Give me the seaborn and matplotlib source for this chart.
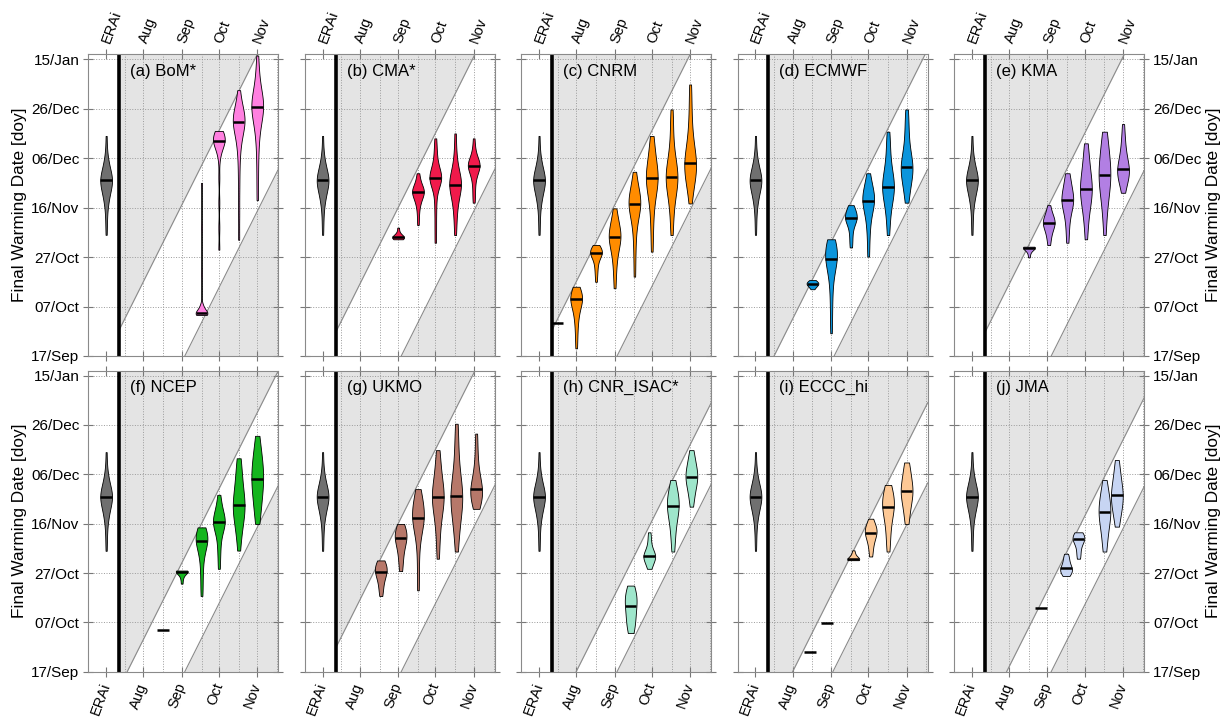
import numpy as np
import pandas as pd
import seaborn as sns
import matplotlib
matplotlib.use("Agg")
import matplotlib.pyplot as plt

# x: initialisation day counted from 1 Aug, y: final warming day counted from 17 Sep
fw_ticks = [0, 20, 40, 60, 80, 100, 120]
fw_labels = ["17/Sep", "07/Oct", "27/Oct", "16/Nov", "06/Dec", "26/Dec", "15/Jan"]
init_ticks = [-30, 0, 31, 61, 92]
init_labels = ["ERAi", "Aug", "Sep", "Oct", "Nov"]
grid_x = [-15, 0, 16, 31, 47, 61, 77, 92, 108]
erai_init = -30
split_x = -19.5

models = ["BoM*", "CMA*", "CNRM", "ECMWF", "KMA", "NCEP", "UKMO", "CNR_ISAC*", "ECCC_hi", "JMA"]
model_colors = ["#ff80e0", "#f01a4b", "#ff8c00", "#0b95dc", "#b27fe3",
                "#14b51e", "#b7786a", "#9ee6cb", "#fdc895", "#c7d5f3"]
erai_color = "#707070"
# forecast window (days after initialisation) bounding the white band
lead_lo = [13.5, 13.5, 14, 13.5, 13, 13.5, 13.5, 14, 14.5, 13]
lead_hi = [77, 76, 77, 62, 76, 60, 76, 47, 47, 49]

erai_fw = [49, 54, 58, 61, 63, 64, 65, 66, 67, 68, 69, 69, 70, 70, 71, 71, 71,
           72, 72, 73, 73, 74, 75, 76, 77, 78, 80, 83, 89]

bom_init = [47, 61, 77, 92]
bom_fw = [
    [16.6, 16.7, 16.8, 16.9, 17.0, 17.1, 17.2, 17.2, 17.3, 17.5, 18.0, 18.6, 19.3, 20.0, 20.8, 33, 52, 70],
    [43, 52, 62, 72, 80, 83, 84.5, 85.5, 86, 86.5, 87, 87, 87.5, 88, 88.5, 89, 89.5, 90, 90.5, 91],
    [47, 58, 68, 76, 82, 86, 88, 90, 92, 93, 94, 95, 95, 95.5, 96, 96.5, 97, 98, 99, 101, 104, 107.5],
    [63, 72, 80, 86, 90, 93, 95, 97, 98, 99, 100, 101, 101.5, 102, 103, 104, 105, 107, 109, 112, 116, 121.5],
]

cma_init = [31, 47, 61, 77, 92]
cma_fw = [
    [47.2, 47.4, 47.6, 47.8, 48.0, 48.0, 48.2, 48.5, 49.0, 50.0, 51.9],
    [53, 57, 60, 62, 63, 64, 65, 65.5, 66, 66.4, 66.8, 67, 67.5, 68, 69, 70, 72, 73.9],
    [45.8, 52, 58, 63, 67, 69, 70, 71, 71.5, 72, 72.2, 72.5, 73, 74, 75, 76.5, 78, 81, 84, 88],
    [48.9, 54, 58, 61, 63, 65, 66.5, 68, 68.5, 69, 69.2, 70, 71, 72, 73, 74, 76, 79, 83, 90],
    [62, 65, 68, 71, 72.5, 74, 75, 76, 76.5, 77, 77, 77.5, 78, 78.5, 79, 80, 82, 84, 88],
]

cnrm_init = [-15, 0, 16, 31, 47, 61, 77, 92]
cnrm_fw = [
    [13.2],
    [3.1, 8, 12, 15, 17, 19, 20.5, 21.5, 23, 23, 23, 23.5, 24, 25, 26, 27, 28],
    [30, 33, 35, 37, 38.5, 39.5, 40.5, 41, 41.5, 41.9, 42, 42.3, 42.6, 43, 43.5, 44.2, 44.9],
    [27.4, 33, 37, 40, 42.5, 44, 45.5, 46.5, 47.5, 48.5, 49, 49.5, 50.5, 51.5, 53, 55, 57, 59.7],
    [32.1, 40, 46, 51, 54, 56, 58, 59.5, 60.5, 61.5, 62, 62.3, 63, 64, 65.5, 67, 69, 71, 74.5],
    [42.2, 50, 56, 61, 64, 66.5, 68.5, 70, 71, 72, 72.2, 73, 74.5, 76, 78, 80, 83, 86, 89],
    [48.9, 55, 60, 63.5, 66, 68, 69.5, 71, 72, 72.2, 73, 74.5, 76, 78, 80, 83, 88, 94, 99.7],
    [61.7, 66, 69, 71.5, 72.5, 73.5, 75, 76.5, 77.2, 77.5, 78, 79, 80.5, 82, 84, 86.5, 89, 93, 98, 104, 109.8],
]

ecmwf_init = [16, 31, 47, 61, 77, 92]
ecmwf_fw = [
    [27, 27.8, 28.4, 28.8, 29.1, 29.3, 29.4, 29.6, 29.8, 30.1, 30.7],
    [9.2, 16, 22, 27, 31, 34, 36, 37.5, 38.5, 39.2, 39.8, 40.5, 41.5, 42.5, 43.5, 44.5, 45.5, 46.3, 47.2],
    [43.9, 47, 50, 52.5, 54, 55, 55.5, 55.9, 56.3, 57, 57.8, 58.8, 60, 61],
    [40.2, 47, 52, 55.5, 58, 60, 61.5, 62.5, 63, 63.5, 64.5, 65.5, 67, 68.5, 70.5, 73.9],
    [48.9, 54, 58, 61.5, 63.5, 65, 66.5, 67.5, 68, 68.5, 69.5, 71, 72.5, 74, 76, 79, 83, 87, 90.7],
    [62, 65, 67.5, 70, 72, 73.5, 74.5, 75.5, 75.9, 76.5, 77.5, 78.5, 80, 82, 85, 88, 92, 96, 99.7],
]

kma_init = [16, 32, 47, 62, 77, 92]
kma_fw = [
    [39.9, 41.5, 42.5, 43.2, 43.6, 43.8, 43.9, 44.0, 44.0, 44.1, 44.1, 44.2],
    [44.9, 47.5, 49.5, 51, 52, 53, 53.5, 54, 54.5, 55.2, 56, 57, 58.5, 61],
    [45.8, 51, 55, 58, 60, 61.5, 62.5, 63, 63.5, 64.5, 66, 67.5, 69.5, 72, 73.9],
    [47.2, 53, 57, 60, 62, 64, 65.5, 66.5, 67.1, 68, 69.5, 71, 72.5, 74.5, 77, 80, 83, 86],
    [48.9, 55, 60, 63, 65.5, 67.5, 69.5, 71, 72.5, 73.2, 74, 75.5, 77, 79, 81, 83, 86, 88.5, 90.7],
    [66, 68.5, 70.5, 72, 73, 74, 74.5, 75, 75.5, 76.5, 78, 79.5, 81, 83, 86, 89, 93.8],
]

ncep_init = [16, 31, 47, 61, 77, 92]
ncep_fw = [
    [16.8],
    [35.7, 37.5, 38.7, 39.5, 40, 40.4, 40.6, 40.8, 40.9, 41, 41, 41],
    [30.7, 36, 41, 45, 48, 50, 51.5, 52.5, 53.2, 53.7, 54.2, 55, 55.8, 56.5, 57.5, 58.5],
    [41.7, 47, 51, 54.5, 57, 58.5, 59.5, 60.3, 60.8, 61.3, 62, 63, 64.5, 66, 68.5, 71.7],
    [49.1, 54, 57.5, 60.5, 62.5, 64, 65.5, 66.5, 67, 68, 69.5, 71, 73, 75.5, 78, 81, 84, 86.5],
    [59.9, 63, 66, 69, 71.5, 73.5, 75.5, 77, 78.3, 79.5, 81, 82.5, 84.5, 86.5, 89, 92, 95.6],
]

ukmo_init = [17, 33, 47, 63, 78, 94]
ukmo_fw = [
    [30.7, 33, 35, 37, 38.5, 39.5, 40.2, 40.8, 41.3, 42, 42.8, 43.6, 44.3, 45.1],
    [40.8, 44, 47, 49.5, 51.5, 53, 54, 54.8, 55.5, 56.3, 57.2, 58.2, 59.9],
    [33, 42, 50, 55, 57.5, 59.5, 61, 62, 62.9, 63.8, 65, 66.5, 68, 70, 72, 74],
    [45.8, 52, 57, 61, 64, 66, 68, 69.5, 70.5, 71, 72, 73.5, 75, 77, 79.5, 83, 86.5, 89.8],
    [48.7, 54, 58.5, 62, 64.5, 66.5, 68.5, 70, 70.7, 71.5, 73, 75, 77, 80, 84, 89, 95, 100.5],
    [66, 67.5, 68.5, 70, 71, 72, 73, 73.6, 74.2, 75, 76.5, 78, 80, 82.5, 86, 91, 96.5],
]

isac_init = [44, 59, 78, 93]
isac_fw = [
    [15.7, 17, 18.5, 20, 21.5, 23, 24.5, 26, 27.5, 28.5, 29.3, 30.2, 31.2, 32.3, 33.5, 34.9],
    [41.7, 43, 44.3, 45.3, 46, 46.5, 46.8, 47.2, 47.8, 48.6, 49.8, 51.5, 54, 56.5],
    [48.7, 53, 57, 60, 62.5, 64.5, 66, 67, 67.6, 68.5, 70, 71.5, 73, 75, 77.7],
    [66.9, 70, 72.5, 74.5, 76, 77.5, 78.5, 79.1, 79.8, 80.8, 82, 83.5, 85.5, 87.5, 89.8],
]

eccc_init = [14, 28, 49, 63, 77, 92]
eccc_fw = [
    [7.8],
    [19.8],
    [45.2, 45.3, 45.3, 45.4, 45.4, 45.5, 45.6, 45.8, 46.1, 46.6, 47.3, 48.2, 49.2],
    [46.7, 49.5, 52, 53.8, 55, 56, 56.7, 57.3, 58, 58.8, 60, 62],
    [48.7, 53, 57, 60.5, 63, 65, 66.5, 67.3, 68.2, 69.3, 70.5, 72, 73.8, 75.7],
    [59.9, 63, 66, 68.5, 70.5, 72, 72.7, 73.5, 74.5, 76, 78, 80.5, 82.5, 84.8],
]

jma_init = [26, 46, 56, 77, 87]
jma_fw = [
    [25.8],
    [38.8, 39.5, 40, 40.4, 40.8, 41.1, 41.4, 41.7, 42, 42.5, 43.3, 44.2, 45.2, 46.2, 47, 47.8],
    [45.8, 47.5, 49.5, 51.5, 52.8, 53.4, 53.8, 54.2, 54.7, 55.2, 55.8, 56.5],
    [48.7, 52, 55.5, 58.5, 60.5, 62, 63.5, 64.6, 65.5, 67, 68.5, 70, 72, 74.5, 77.7],
    [58.8, 62, 64.5, 66.5, 68, 69.5, 70.6, 71.5, 72.5, 74, 75.5, 77.5, 80, 83, 85.8],
]

all_init = [bom_init, cma_init, cnrm_init, ecmwf_init, kma_init,
            ncep_init, ukmo_init, isac_init, eccc_init, jma_init]
all_fw = [bom_fw, cma_fw, cnrm_fw, ecmwf_fw, kma_fw,
          ncep_fw, ukmo_fw, isac_fw, eccc_fw, jma_fw]

VW = 9.5          # violin width in days
XLIM = (-44.4, 109)
YLIM = (0, 122)
SHADE = "#e4e4e4"

plt.rcParams["font.family"] = ["Liberation Sans", "DejaVu Sans"]


def half_width(coll, x0, y0):
    xy = coll.get_paths()[0].vertices
    xs = []
    for (xa, ya), (xb, yb) in zip(xy[:-1], xy[1:]):
        if ya != yb and min(ya, yb) <= y0 <= max(ya, yb):
            xs.append(xa + (y0 - ya) * (xb - xa) / (yb - ya))
    return max(abs(v - x0) for v in xs) if xs else VW / 2


def draw_violin(ax, x, vals, color):
    vals = np.asarray(vals, dtype=float)
    med = np.median(vals)
    if np.ptp(vals) == 0:
        half = VW / 2
    else:
        sd = vals.std(ddof=1)
        q1, q3 = np.percentile(vals, [25, 75])
        h = 0.9 * min(sd, (q3 - q1) / 1.34) * len(vals) ** -0.2 * 1.3
        h = max(h, 1.0)
        df = pd.DataFrame({"init": np.full(len(vals), x), "fw": vals})
        sns.violinplot(data=df, x="init", y="fw", native_scale=True, orient="x",
                       cut=0, inner=None, density_norm="width", width=VW,
                       bw_method=h / sd, color=color, saturation=1,
                       linewidth=0.6, linecolor="k", ax=ax, zorder=3)
        half = half_width(ax.collections[-1], x, med)
    ax.hlines(med, x - half, x + half, color="k", lw=1.8, zorder=4)


fig = plt.figure(figsize=(12.25, 7.17), dpi=100)
lefts = [88.3 + i * 216.45 for i in range(5)]

for k, name in enumerate(models):
    row, col = divmod(k, 5)
    if row == 0:
        rect = [lefts[col] / 1225, 1 - 356 / 717, 190 / 1225, 301.7 / 717]
    else:
        rect = [lefts[col] / 1225, 1 - 671.7 / 717, 190 / 1225, 301 / 717]
    ax = fig.add_axes(rect)

    # shaded region outside the forecast window
    xs = np.linspace(split_x, XLIM[1], 300)
    up = np.clip(xs + lead_hi[k] - 47, *YLIM)
    lo = np.clip(xs + lead_lo[k] - 47, *YLIM)
    ax.fill_between(xs, up, YLIM[1], color=SHADE, lw=0, zorder=0.2)
    ax.fill_between(xs, YLIM[0], lo, color=SHADE, lw=0, zorder=0.2)
    ax.plot(xs, xs + lead_hi[k] - 47, color="#8a8a8a", lw=0.8, zorder=0.6)
    ax.plot(xs, xs + lead_lo[k] - 47, color="#8a8a8a", lw=0.8, zorder=0.6)

    for gx in grid_x:
        ax.axvline(gx, color="#9a9a9a", ls=":", lw=0.7, zorder=0.5)
    ax.axvline(split_x, color="k", lw=2.6, zorder=2.5)

    draw_violin(ax, erai_init, erai_fw, erai_color)
    for x, vals in zip(all_init[k], all_fw[k]):
        draw_violin(ax, x, vals, model_colors[k])

    ax.set_xlim(*XLIM)
    ax.set_ylim(*YLIM)
    ax.set_xlabel("")
    ax.set_ylabel("")
    ax.set_axisbelow(True)
    ax.grid(axis="y", color="#9a9a9a", ls=":", lw=0.7)
    ax.grid(axis="x", visible=False)
    ax.set_xticks(init_ticks)
    ax.set_xticklabels(init_labels)
    ax.set_yticks(fw_ticks)
    ax.set_yticklabels(fw_labels)
    ax.tick_params(direction="inout", length=7, width=0.8, color="#777777",
                   top=True, right=True, bottom=True, left=True,
                   labeltop=(row == 0), labelbottom=(row == 1),
                   labelleft=(col == 0), labelright=(col == 4))
    ax.tick_params(axis="y", labelsize=11, pad=3)
    ax.tick_params(axis="x", labelsize=10.5, pad=5)
    for t in ax.xaxis.get_major_ticks():
        t.label1.set(rotation=70, ha="right", va="center", rotation_mode="anchor")
        t.label2.set(rotation=70, ha="left", va="center", rotation_mode="anchor")
    for s in ax.spines.values():
        s.set_color("#8a8a8a")
        s.set_linewidth(0.8)

    ax.text(0.22, 0.943, f"({'abcdefghij'[k]}) {name}", transform=ax.transAxes,
            fontsize=12, va="center", ha="left", zorder=5)

    if col == 0:
        ax.set_ylabel("Final Warming Date [doy]", fontsize=12.4, labelpad=3)
    if col == 4:
        ax.yaxis.set_label_position("right")
        ax.set_ylabel("Final Warming Date [doy]", fontsize=12.4, labelpad=3)

fig.savefig("out.png", dpi=100)
